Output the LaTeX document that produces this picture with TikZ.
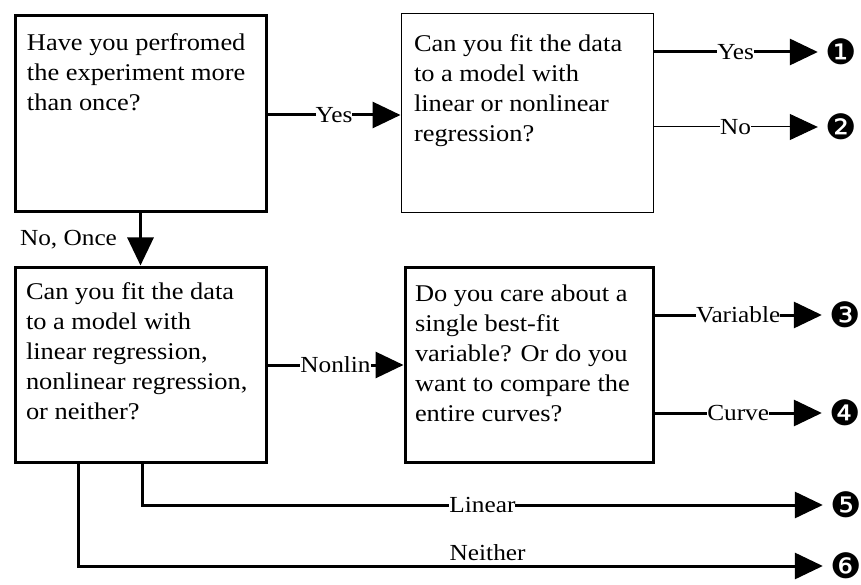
\documentclass[tikz,border=0pt]{standalone}
\usepackage{fontspec}
\setmainfont{Liberation Serif}[FakeStretch=1.1]
\newfontfamily\dingfont{DejaVu Sans}
\usetikzlibrary{arrows.meta}

\begin{document}
\begin{tikzpicture}[x=1pt, y=-1pt, line width=3pt,
        qbox/.style = {rectangle, draw,
            minimum width=251pt,
            minimum height=196pt,
            inner sep=0pt
        },
        qtext/.style = {anchor=north west, align=left, inner sep=0pt,
            font=\fontsize{24}{30}\selectfont},
        lbl/.style = {fill=white, inner sep=0pt,
            font=\fontsize{23}{28}\selectfont},
        num/.style = {inner xsep=6pt, inner ysep=0pt,
            font=\dingfont\fontsize{35}{35}\selectfont},
        arr/.style = {-{Triangle[length=28pt,width=26pt]}}
    ]
    \useasboundingbox (0,0) rectangle (861,585);

    % Question boxes
    \node [qbox] (once) at (140.5,113.5) {};
    \node [qbox, line width=1pt, minimum width=252pt, minimum height=199pt] (fit) at (527,113.5) {};
    \node [qbox, minimum height=195pt] (kind) at (140.5,364.5) {};
    \node [qbox, minimum width=248pt, minimum height=195pt] (care) at (529,364.5) {};

    % Box texts
    \node [qtext] (oncetxt) at ([xshift=12pt, yshift=-18pt]once.north west)
        {Have you perfromed\\the experiment more\\than once?};
    \node [qtext] (fittxt) at ([xshift=12pt, yshift=-20pt]fit.north west)
        {Can you fit the data\\to a model with\\linear or nonlinear\\regression?};
    \node [qtext] (kindtxt) at ([xshift=11pt, yshift=-16pt]kind.north west)
        {Can you fit the data\\to a model with\\linear regression,\\nonlinear regression,\\or neither?};
    \node [qtext] (caretxt) at ([xshift=10pt, yshift=-18pt]care.north west)
        {Do you care about a\\single best-fit\\variable? Or do you\\want to compare the\\entire curves?};

    % Outcome numbers
    \node [num] (n1) at (841,52) {❶};
    \node [num] (n2) at (841,127) {❷};
    \node [num] (n3) at (845,315) {❸};
    \node [num] (n4) at (845,413) {❹};
    \node [num] (n5) at (846,505) {❺};
    \node [num] (n6) at (846,566) {❻};

    % Branches from the first box
    \draw [arr] (once.east |- 0,115) -- node [lbl] {Yes} (fit.west |- 0,115);
    \draw [arr] (once.south) -- node [lbl, left=22pt, fill=none] {No, Once} (kind.north);

    % Branches from the fit box
    \draw [arr] (fit.east |- n1.west) -- node [lbl] {Yes} (n1.west);
    \draw [arr, line width=1pt] (fit.east |- n2.west) -- node [lbl] {No} (n2.west);

    % Branches from the kind box
    \draw [arr] (kind.east |- 0,365) -- node [lbl] {Nonlin} (care.west |- 0,365);
    \draw [arr] ([xshift=1.5pt]kind.south) |- node [lbl, pos=0.75] {Linear} (n5.west);
    \draw [arr] ([xshift=-62.5pt]kind.south) |- node [lbl, pos=0.775, above=4pt, fill=none] {Neither} (n6.west);

    % Branches from the care box
    \draw [arr] (care.east |- n3.west) -- node [lbl] {Variable} (n3.west);
    \draw [arr] (care.east |- n4.west) -- node [lbl] {Curve} (n4.west);

\end{tikzpicture}
\end{document}
